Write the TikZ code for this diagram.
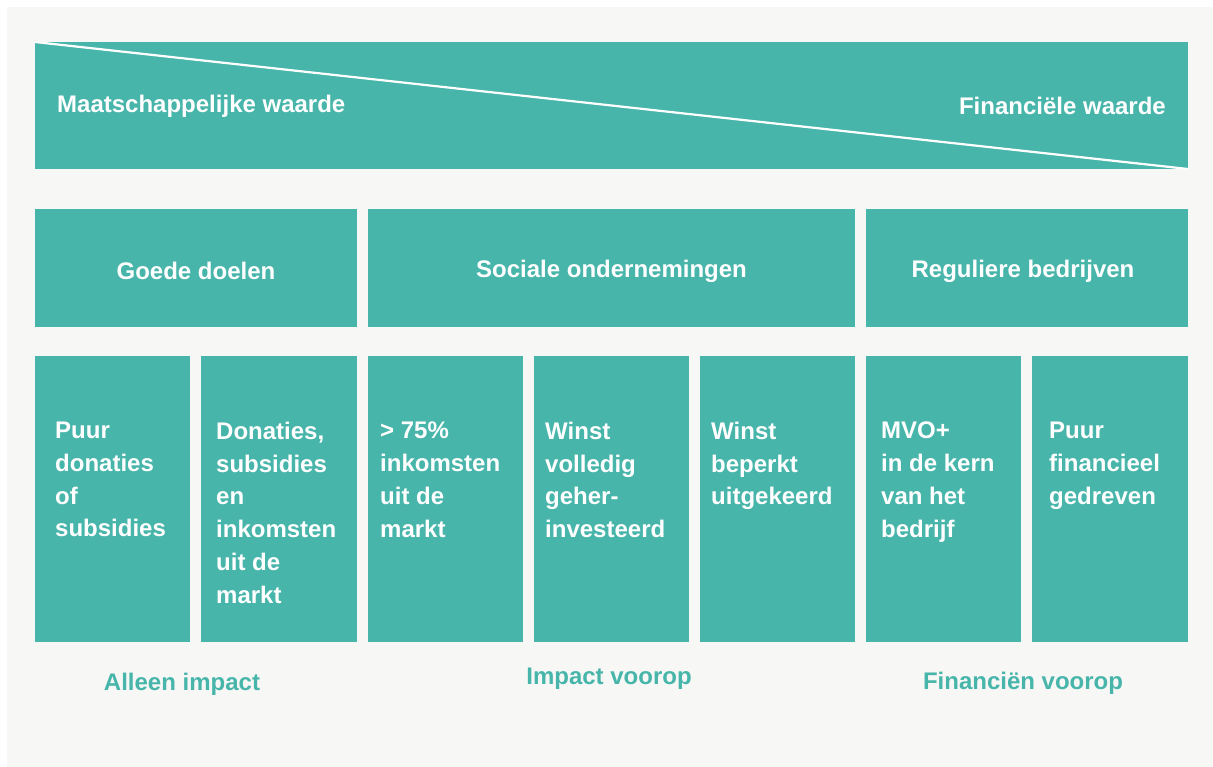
\documentclass[tikz,border=0pt]{standalone}
\usepackage{fontspec}
\setmainfont{Liberation Sans}
\definecolor{teal1}{HTML}{47B5AA}
\definecolor{bggrey}{HTML}{F7F8F6}
\tikzset{
  tbox/.style={fill=teal1, draw=none},
  wtext/.style={text=white, font=\bfseries\fontsize{24}{32.7}\selectfont, inner sep=0pt},
  ctext/.style={text=teal1, font=\bfseries\fontsize{24}{32.7}\selectfont, inner sep=0pt},
  coltext/.style={wtext, anchor=north west, align=left},
}
\begin{document}
\begin{tikzpicture}[x=1pt,y=-1pt]
\useasboundingbox (0,0) rectangle (1213,767);
\fill[white] (0,0) rectangle (1213,767);
\fill[bggrey] (7,7) rectangle (1213,767);
% top banner
\fill[tbox] (35,42) rectangle (1188,169);
\coordinate (dA) at (35,42);
\coordinate (dB) at (1188,169);
\draw[white, line width=2.2pt] (dA) -- (dB);
\node[wtext, anchor=west] (mw) at (57,106) {Maatschappelijke waarde};
\node[wtext, anchor=east] (fw) at (1166,106) {Financiële waarde};
% row 2
\fill[tbox] (35,209) rectangle (357,327);
\fill[tbox] (368,209) rectangle (855,327);
\fill[tbox] (866,209) rectangle (1188,327);
\node[wtext] (gd) at (196,271) {Goede doelen};
\node[wtext] (so) at (611.5,271) {Sociale ondernemingen};
\node[wtext] (rb) at (1023,271) {Reguliere bedrijven};
% row 3
\foreach \xa/\xb in {35/190,201/357,368/523,534/689,700/855,866/1021,1032/1188}{
  \fill[tbox] (\xa,356) rectangle (\xb,642);
}
\node[coltext] (c1) at (55,422) {Puur\\donaties\\of\\subsidies};
\node[coltext] (c2) at (216,422) {Donaties,\\subsidies\\en\\inkomsten\\uit de\\markt};
\node[coltext] (c3) at (380,422) {> 75\%\\inkomsten\\uit de\\markt};
\node[coltext] (c4) at (545,422) {Winst\\volledig\\geher-\\investeerd};
\node[coltext] (c5) at (711,422) {Winst\\beperkt\\uitgekeerd};
\node[coltext] (c6) at (881,422) {MVO+\\in de kern\\van het\\bedrijf};
\node[coltext] (c7) at (1049,422) {Puur\\financieel\\gedreven};
% bottom labels
\node[ctext] (l1) at (182,684) {Alleen impact};
\node[ctext] (l2) at (609,679) {Impact voorop};
\node[ctext] (l3) at (1023,683) {Financiën voorop};
\end{tikzpicture}
\end{document}
